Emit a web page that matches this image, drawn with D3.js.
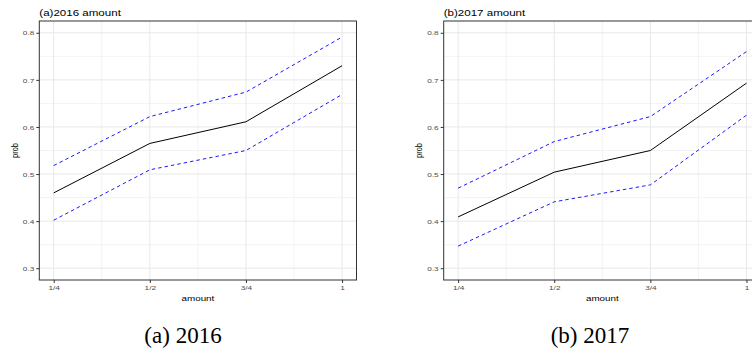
<!DOCTYPE html>
<html>
<head>
<meta charset="utf-8">
<script src="https://cdn.jsdelivr.net/npm/d3@7"></script>
<style>
  body { margin: 0; background: #fff; }
  svg { display: block; }
  text { font-family: "Liberation Sans", Arial, sans-serif; }
  .caption { font-family: "Liberation Serif", "DejaVu Serif", serif; }
</style>
</head>
<body>
<svg width="752" height="349"></svg>
<script>
// values
const amountLabels = ["1/4", "1/2", "3/4", "1"];
const amountX = [1, 2, 3, 4];
const yTicks = [0.3, 0.4, 0.5, 0.6, 0.7, 0.8];

const prob2016 = [0.460, 0.565, 0.611, 0.730];
const upper2016 = [0.518, 0.622, 0.674, 0.791];
const lower2016 = [0.402, 0.509, 0.550, 0.669];

const prob2017 = [0.409, 0.504, 0.550, 0.693];
const upper2017 = [0.470, 0.569, 0.622, 0.760];
const lower2017 = [0.347, 0.441, 0.477, 0.625];

const svg = d3.select("svg");

// the figure is a stretched bitmap, text is wider than it is tall
const sx = 1.33;

function label(g, x, y, str, size, anchor, rotate) {
	const t = g.append("text")
		.attr("transform", `translate(${x},${y}) scale(${sx},1)` + (rotate ? " rotate(-90)" : ""))
		.attr("text-anchor", anchor)
		.attr("font-size", size)
		.text(str);
	return t;
}

const panels = [
	{ left: 39.3, title: "(a)2016 amount", caption: "(a) 2016", capX: 183, mean: prob2016, upper: upper2016, lower: lower2016 },
	{ left: 443.7, title: "(b)2017 amount", caption: "(b) 2017", capX: 590, mean: prob2017, upper: upper2017, lower: lower2017 },
];

const plotTop = 21;
const plotBottom = 280;
const w = 317.2;

panels.forEach(p => {
	const g = svg.append("g");
	const x = d3.scaleLinear().domain([0.85, 4.15]).range([p.left, p.left + w]);
	const y = d3.scaleLinear().domain([0.275, 0.825]).range([plotBottom, plotTop]);

	// minor grid
	const xMinor = amountX.slice(1).map(d => d - 0.5);
	const yMinor = yTicks.slice(1).map(d => d - 0.05);
	g.append("g").selectAll("line").data(xMinor).join("line")
		.attr("x1", d => x(d)).attr("x2", d => x(d))
		.attr("y1", plotTop).attr("y2", plotBottom)
		.attr("stroke", "#f2f2f2").attr("stroke-width", 0.9);
	g.append("g").selectAll("line").data(yMinor).join("line")
		.attr("x1", p.left).attr("x2", p.left + w)
		.attr("y1", d => y(d)).attr("y2", d => y(d))
		.attr("stroke", "#f2f2f2").attr("stroke-width", 0.9);

	// major grid
	g.append("g").selectAll("line").data(amountX).join("line")
		.attr("x1", d => x(d)).attr("x2", d => x(d))
		.attr("y1", plotTop).attr("y2", plotBottom)
		.attr("stroke", "#e8e8e8").attr("stroke-width", 1);
	g.append("g").selectAll("line").data(yTicks).join("line")
		.attr("x1", p.left).attr("x2", p.left + w)
		.attr("y1", d => y(d)).attr("y2", d => y(d))
		.attr("stroke", "#e8e8e8").attr("stroke-width", 1);

	// lines
	const line = d3.line().x((d, i) => x(amountX[i])).y(d => y(d));
	g.append("path").datum(p.upper)
		.attr("d", line).attr("fill", "none")
		.attr("stroke", "#0000ff").attr("stroke-width", 0.9)
		.attr("stroke-dasharray", "3.5,3");
	g.append("path").datum(p.lower)
		.attr("d", line).attr("fill", "none")
		.attr("stroke", "#0000ff").attr("stroke-width", 0.9)
		.attr("stroke-dasharray", "3.5,3");
	g.append("path").datum(p.mean)
		.attr("d", line).attr("fill", "none")
		.attr("stroke", "#000").attr("stroke-width", 1);

	// border
	g.append("rect")
		.attr("x", p.left).attr("y", plotTop)
		.attr("width", w).attr("height", plotBottom - plotTop)
		.attr("fill", "none").attr("stroke", "#333").attr("stroke-width", 1);

	// axes
	const yAxis = d3.axisLeft(y).tickValues(yTicks).tickSize(3).tickPadding(2)
		.tickFormat(d3.format(".1f"));
	const ya = g.append("g").attr("transform", `translate(${p.left},0)`).call(yAxis);
	ya.select(".domain").remove();
	ya.selectAll("line").attr("stroke", "#333");
	ya.selectAll("text")
		.attr("font-size", 6.2).attr("fill", "#4d4d4d")
		.attr("font-family", "Liberation Sans, Arial, sans-serif")
		.attr("x", null).attr("dy", "0.35em")
		.attr("transform", `translate(-5,0) scale(${sx},1)`);

	const xAxis = d3.axisBottom(x).tickValues(amountX).tickSize(3).tickPadding(2)
		.tickFormat((d, i) => amountLabels[i]);
	const xa = g.append("g").attr("transform", `translate(0,${plotBottom})`).call(xAxis);
	xa.select(".domain").remove();
	xa.selectAll("line").attr("stroke", "#333");
	xa.selectAll("text")
		.attr("font-size", 6.2).attr("fill", "#4d4d4d")
		.attr("font-family", "Liberation Sans, Arial, sans-serif")
		.attr("y", null).attr("dy", 0)
		.attr("transform", `translate(0,9.5) scale(${sx},1)`);

	// titles
	label(g, p.left, 15.5, p.title, 8.7, "start");
	label(g, p.left + w / 2, 300.5, "amount", 7.4, "middle");
	label(g, p.left - 21.5, (plotTop + plotBottom) / 2, "prob", 7.4, "middle", true);

	g.append("text")
		.attr("class", "caption")
		.attr("x", p.capX).attr("y", 343)
		.attr("text-anchor", "middle")
		.attr("font-size", 23)
		.text(p.caption);
});
</script>
</body>
</html>
